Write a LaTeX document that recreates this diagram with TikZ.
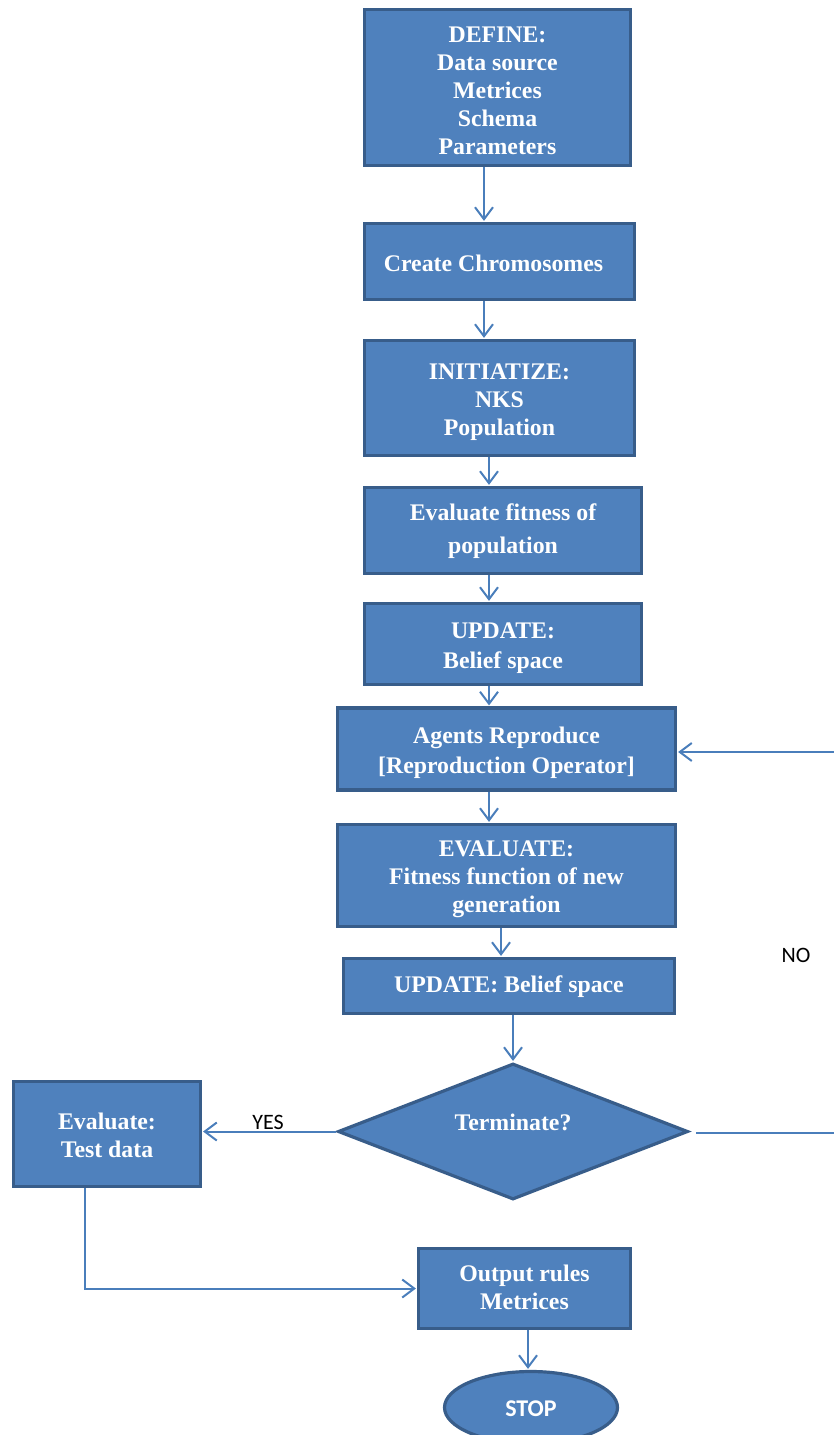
\documentclass[tikz,border=0pt]{standalone}
\usepackage{fontspec}
\setmainfont{Liberation Serif}
\newfontfamily\labelfont{Carlito}
\usetikzlibrary{shapes.geometric,arrows.meta}
\definecolor{boxfill}{HTML}{4F81BD}
\definecolor{boxline}{HTML}{385D8A}
\definecolor{linkcol}{HTML}{4A7EBB}
\newcommand{\boxfont}{\fontsize{23.8}{28}\selectfont\bfseries}
\tikzset{
  stepbox/.style={rectangle, draw=boxline, fill=boxfill, line width=3.2pt,
    inner sep=0pt},
  decision/.style={diamond, draw=boxline, fill=boxfill, line width=3.2pt,
    inner sep=0pt},
  endcap/.style={ellipse, draw=boxline, fill=boxfill, line width=3.2pt,
    inner sep=0pt},
  boxtext/.style={text=white, font=\boxfont, align=center, inner sep=0pt},
  captext/.style={text=white, font=\labelfont\fontsize{24}{28}\selectfont\bfseries, inner sep=0pt},
  tag/.style={font=\labelfont\fontsize{22}{26}\selectfont, text=black, inner sep=0pt},
  arr/.style={draw=linkcol, line width=2pt, shorten >=1pt,
    -{Straight Barb[length=12pt,width=18pt]}}
}
\begin{document}
\begin{tikzpicture}[x=1pt,y=-1pt]
  \useasboundingbox (0,0) rectangle (833,1435);

  % process steps: boxes
  \node[stepbox, minimum width=266pt, minimum height=156pt] (def) at (497.5,87.5) {};
  \node[stepbox, minimum width=270pt, minimum height=76pt] (chrom) at (499.5,261.5) {};
  \node[stepbox, minimum width=270pt, minimum height=115pt] (init) at (499.5,398) {};
  \node[stepbox, minimum width=277pt, minimum height=86pt] (fit) at (503,530.5) {};
  \node[stepbox, minimum width=277pt, minimum height=81pt] (upd1) at (503,644) {};
  \node[stepbox, minimum width=338pt, minimum height=82pt] (agents) at (506.5,749) {};
  \node[stepbox, minimum width=338pt, minimum height=102pt] (eval) at (506.5,875.5) {};
  \node[stepbox, minimum width=331pt, minimum height=55pt] (upd2) at (509,986) {};
  \node[decision, minimum width=350pt, minimum height=136pt] (dia) at (513,1131.5) {};
  \node[stepbox, minimum width=187pt, minimum height=105pt] (test) at (107,1134) {};
  \node[stepbox, minimum width=212pt, minimum height=80pt] (out) at (524.5,1288.5) {};
  \node[endcap, minimum width=173pt, minimum height=72pt] (stop) at (531,1407.5) {};

  % process steps: texts
  \node[boxtext] (def-t) at ([yshift=-3.5pt]def.center)
    {DEFINE:\\Data source\\Metrices\\Schema\\Parameters};
  \node[boxtext] (chrom-t) at ([xshift=-6pt,yshift=-2pt]chrom.center)
    {Create Chromosomes};
  \node[boxtext] (init-t) at ([yshift=-4pt]init.center)
    {INITIATIZE:\\NKS\\Population};
  \node[boxtext] (fit-t) at ([yshift=-1pt]fit.center)
    {Evaluate fitness of\\[5pt]population};
  \node[boxtext] (upd1-t) at ([yshift=-4.5pt]upd1.center)
    {UPDATE:\\[2pt]Belief space};
  \node[boxtext] (agents-t) at ([yshift=-3.5pt]agents.center)
    {Agents Reproduce\\[2pt]{[}Reproduction Operator{]}};
  \node[boxtext] (eval-t) at ([yshift=-4pt]eval.center)
    {EVALUATE:\\Fitness function of new\\generation};
  \node[boxtext] (upd2-t) at ([yshift=-1pt]upd2.center)
    {UPDATE: Belief space};
  \node[boxtext] (dia-t) at (513,1122) {Terminate?};
  \node[boxtext] (test-t) at ([yshift=-1pt]test.center)
    {Evaluate:\\Test data};
  \node[boxtext] (out-t) at ([yshift=1.5pt]out.center)
    {Output rules\\Metrices};
  \node[captext] (stop-t) at ([yshift=-1pt]stop.center) {STOP};

  % main flow
  \draw[arr] ([xshift=-13.5pt]def.south) -- ([xshift=-13.5pt]def.south |- chrom.north);
  \draw[arr] ([xshift=-15.5pt]chrom.south) -- ([xshift=-15.5pt]chrom.south |- init.north);
  \draw[arr] ([xshift=-10.5pt]init.south) -- ([xshift=-10.5pt]init.south |- fit.north);
  \draw[arr] ([xshift=-14pt]fit.south) -- ([xshift=-14pt]fit.south |- upd1.north);
  \draw[arr] ([xshift=-14pt]upd1.south) -- ([xshift=-14pt]upd1.south |- agents.north);
  \draw[arr] ([xshift=-17.5pt]agents.south) -- ([xshift=-17.5pt]agents.south |- eval.north);
  \draw[arr] ([xshift=-5.5pt]eval.south) -- ([xshift=-5.5pt]eval.south |- upd2.north);
  \draw[arr] ([xshift=4pt]upd2.south) -- ([xshift=4pt]upd2.south |- dia.north);
  \draw[arr] ([xshift=3.5pt]out.south) -- ([xshift=3.5pt]out.south |- stop.north);

  % YES branch
  \draw[arr] (dia.west) -- (test.east |- dia.west);
  \node[tag] (yes) at (268,1122) {YES};

  % from test data to output
  \coordinate (tturn) at (85,1288.5);
  \draw[arr] ([xshift=-22pt]test.south) -- (tturn) -- (out.west);

  % NO loop back to reproduction
  \coordinate (nostart) at (696,1133);
  \coordinate (nodown) at (842,1133);
  \coordinate (noup) at (842,752);
  \draw[arr] (nostart) -- (nodown) -- (noup) -- (agents.east |- noup);
  \node[tag] (no) at (796,955) {NO};
\end{tikzpicture}
\end{document}
